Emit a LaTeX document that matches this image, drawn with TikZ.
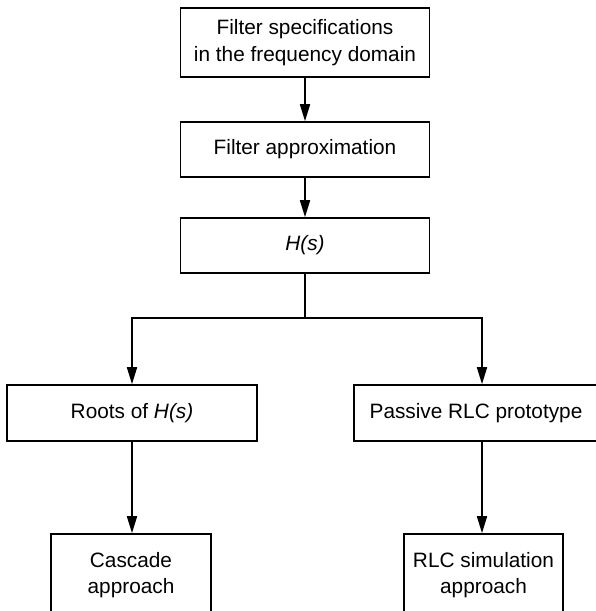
\documentclass[tikz,border=0pt]{standalone}
\usepackage{fontspec}
\setmainfont{Liberation Sans}
\usetikzlibrary{arrows.meta}
\begin{document}
\begin{tikzpicture}[x=1pt,y=-1pt,
  box/.style={draw, line width=1.6pt, align=center, inner sep=0pt,
    font=\fontsize{20.8}{26.5}\selectfont},
  arr/.style={line width=1.7pt, -{Triangle[length=17pt,width=10pt]}},
  ln/.style={line width=1.7pt}]
\useasboundingbox (0,0) rectangle (596,611);
\clip (0,0) rectangle (596,611);
\fill[white] (0,0) rectangle (596,611);
\node[box, minimum width=249pt, minimum height=69pt] (spec) at (305,42.5)
  {Filter specifications\\in the frequency domain};
\node[box, minimum width=249pt, minimum height=55pt] (approx) at (305,149.5)
  {Filter approximation};
\node[box, minimum width=249pt, minimum height=55pt] (hs) at (305,245.5)
  {\textit{H(s)}};
\node[box, minimum width=250pt, minimum height=56pt] (roots) at (132,413)
  {Roots of \textit{H(s)}};
\node[box, minimum width=244pt, minimum height=56pt] (rlc) at (476,413)
  {Passive RLC prototype};
\node[box, minimum width=160pt, minimum height=82pt] (casc) at (131,575)
  {Cascade\\approach};
\node[box, minimum width=159pt, minimum height=82pt] (sim) at (483.5,575)
  {RLC simulation\\approach};
\coordinate (j) at (305,318);
\coordinate (rpin) at (482,318);
\draw[arr] (spec) -- (approx);
\draw[arr] (approx) -- (hs);
\draw[ln] (hs.south) -- (j);
\draw[arr] (j) -| (roots);
\draw[arr] (j) -- (rpin) -- (rpin |- rlc.north);
\draw[arr] (roots.south) -- (roots.south |- casc.north);
\draw[arr] (rpin |- rlc.south) -- (rpin |- sim.north);
\end{tikzpicture}
\end{document}
